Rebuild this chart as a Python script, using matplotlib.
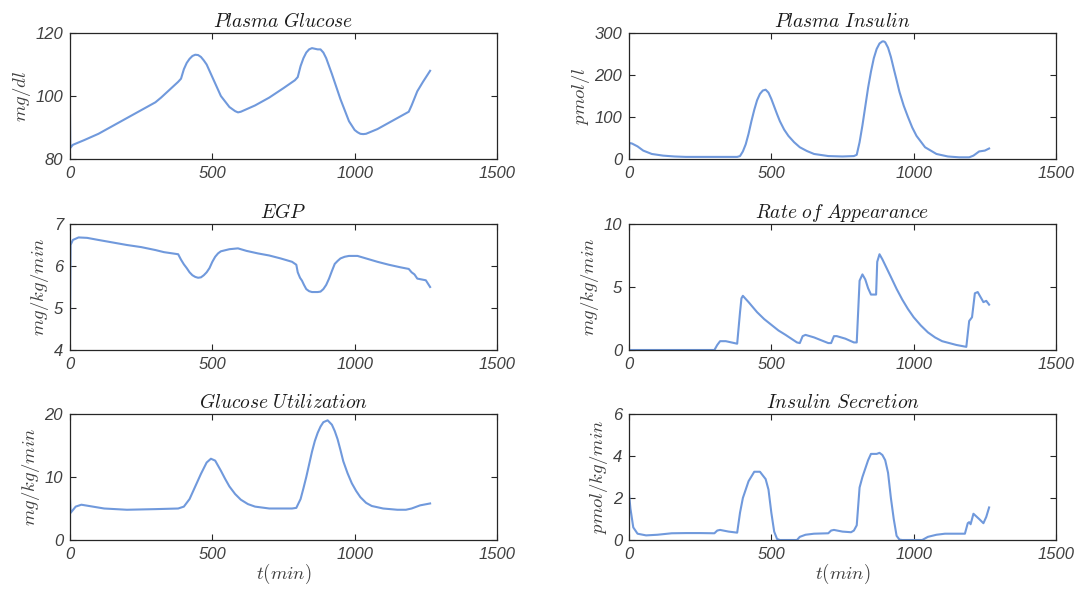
import matplotlib
matplotlib.use('Agg')
import matplotlib.pyplot as plt

# ---- data (t in min) ----
t_glu = [0, 1, 10, 50, 100, 150, 200, 250, 300, 320, 350, 380, 390, 400, 410, 420, 430, 440,
         450, 460, 470, 480, 500, 530, 560, 580, 590, 600, 650, 700, 750, 790, 800, 810, 820,
         830, 840, 850, 860, 870, 880, 890, 900, 920, 950, 980, 1000, 1010, 1020, 1030, 1040,
         1080, 1120, 1160, 1190, 1200, 1220, 1240, 1265]
glucose = [94, 83.5, 84.5, 86, 88, 90.5, 93, 95.5, 98, 99.5, 102, 104.5, 105.5, 108.5, 110.5,
           111.8, 112.7, 113.1, 113, 112.4, 111.3, 110, 106, 100, 96.5, 95.2, 94.8, 95, 97,
           99.5, 102.5, 105, 106, 109.5, 112, 113.8, 114.8, 115.2, 115, 114.8, 114.8, 113.8,
           112, 107, 99, 92, 89.2, 88.5, 88, 87.9, 88, 89.5, 91.5, 93.5, 95, 97, 101.5,
           104.5, 108]

t_ins = [0, 1, 10, 30, 50, 80, 120, 160, 200, 300, 380, 390, 400, 410, 420, 430, 440, 450,
         460, 470, 480, 490, 500, 510, 520, 530, 545, 560, 580, 600, 625, 650, 700, 750, 790,
         800, 810, 820, 830, 840, 850, 860, 870, 880, 890, 895, 900, 910, 920, 930, 940, 950,
         965, 980, 995, 1010, 1040, 1080, 1120, 1160, 1195, 1210, 1230, 1250, 1265]
insulin = [0, 38, 37, 30, 20, 12, 8, 6, 5, 5, 5, 7, 18, 35, 60, 90, 117, 140, 155, 163, 165,
           158, 143, 125, 107, 90, 70, 55, 40, 28, 19, 12, 7, 6, 7, 10, 40, 80, 125, 170, 208,
           240, 262, 275, 280, 280, 278, 265, 243, 215, 188, 160, 127, 100, 75, 55, 28, 12, 6,
           4, 4, 8, 18, 20, 25]

t_egp = [0, 2, 10, 30, 60, 100, 150, 200, 250, 300, 330, 380, 390, 400, 410, 420, 430, 440,
         450, 460, 470, 480, 490, 500, 510, 520, 530, 560, 590, 620, 660, 700, 740, 780, 795,
         800, 808, 815, 822, 830, 840, 850, 870, 880, 890, 900, 910, 920, 930, 940, 950, 965,
         980, 1010, 1040, 1080, 1120, 1160, 1190, 1200, 1210, 1220, 1250, 1265]
egp = [4.5, 6.5, 6.62, 6.68, 6.67, 6.62, 6.56, 6.5, 6.45, 6.38, 6.33, 6.28, 6.15, 6.04,
       5.95, 5.85, 5.78, 5.74, 5.72, 5.73, 5.78, 5.85, 5.95, 6.1, 6.22, 6.3, 6.35, 6.4, 6.42,
       6.36, 6.3, 6.25, 6.18, 6.1, 6.03, 5.85, 5.72, 5.65, 5.55, 5.45, 5.4, 5.38, 5.38, 5.39,
       5.45, 5.55, 5.7, 5.88, 6.05, 6.12, 6.18, 6.22, 6.24, 6.24, 6.18, 6.1, 6.03, 5.97,
       5.93, 5.85, 5.8, 5.7, 5.66, 5.5]

t_ra = [0, 300, 310, 320, 340, 370, 380, 390, 395, 400, 420, 450, 475, 500, 525, 550, 570,
        590, 600, 610, 620, 650, 700, 710, 720, 730, 760, 790, 800, 810, 820, 830, 840, 850,
        860, 868, 872, 880, 890, 905, 920, 940, 960, 980, 1000, 1025, 1050, 1075, 1100, 1150,
        1185, 1195, 1205, 1215, 1225, 1240, 1245, 1255, 1265]
ra = [0, 0, 0.4, 0.7, 0.7, 0.55, 0.5, 3.0, 4.1, 4.3, 3.8, 3.0, 2.45, 2.0, 1.55, 1.2, 0.9,
      0.6, 0.55, 1.1, 1.2, 1.0, 0.55, 0.55, 1.1, 1.1, 0.9, 0.6, 0.6, 5.5, 6.0, 5.6, 4.9, 4.4,
      4.4, 4.4, 7.0, 7.6, 7.2, 6.5, 5.8, 4.85, 4.0, 3.25, 2.6, 1.95, 1.4, 1.0, 0.7, 0.4,
      0.25, 2.3, 2.6, 4.5, 4.6, 4.0, 3.8, 3.9, 3.6]

t_uti = [0, 2, 20, 40, 80, 120, 200, 300, 380, 400, 420, 440, 460, 480, 495, 510, 530, 545,
         560, 580, 600, 625, 650, 700, 780, 795, 810, 820, 830, 840, 850, 860, 870, 880, 890,
         905, 920, 930, 940, 950, 960, 975, 990, 1005, 1020, 1040, 1060, 1100, 1150, 1180,
         1200, 1230, 1265]
utilization = [6.5, 4.3, 5.3, 5.6, 5.3, 5.0, 4.8, 4.9, 5.0, 5.3, 6.5, 8.5, 10.5, 12.3, 12.9,
               12.6, 11, 9.7, 8.5, 7.3, 6.4, 5.7, 5.3, 5.0, 5.0, 5.1, 6.5, 8.2, 10, 12, 14,
               15.7, 17, 18, 18.7, 19, 18.3, 17.3, 16, 14.3, 12.5, 10.6, 9, 7.8, 6.8, 5.9,
               5.4, 5.0, 4.8, 4.8, 5.0, 5.5, 5.8]

t_sec = [0, 5, 15, 30, 60, 100, 150, 200, 250, 300, 310, 320, 350, 380, 390, 400, 420, 440,
         460, 480, 490, 500, 510, 520, 530, 590, 600, 620, 650, 700, 710, 720, 750, 780, 790,
         800, 810, 820, 840, 850, 870, 880, 890, 900, 910, 920, 930, 940, 950, 960, 1030, 1050,
         1080, 1110, 1150, 1180, 1190, 1195, 1200, 1205, 1210, 1230, 1245, 1255, 1265]
secretion = [2.2, 1.5, 0.6, 0.3, 0.22, 0.25, 0.32, 0.33, 0.33, 0.32, 0.45, 0.48, 0.4, 0.35,
             1.3, 2.0, 2.8, 3.25, 3.25, 2.9, 2.4, 1.3, 0.4, 0.05, 0, 0, 0.15, 0.25, 0.3, 0.32,
             0.45, 0.48, 0.4, 0.37, 0.45, 0.7, 2.5, 3.0, 3.8, 4.1, 4.1, 4.15, 4.05, 3.8, 3.2,
             2.0, 1.0, 0.2, 0.02, 0, 0, 0.15, 0.25, 0.3, 0.3, 0.3, 0.8, 0.85, 0.75, 1.0, 1.25,
             1.0, 0.8, 1.1, 1.55]

panels = [
    (t_glu, glucose, r'$Plasma\ Glucose$', r'$mg/dl$', (80, 120), [80, 100, 120]),
    (t_ins, insulin, r'$Plasma\ Insulin$', r'$pmol/l$', (0, 300), [0, 100, 200, 300]),
    (t_egp, egp, r'$EGP$', r'$mg/kg/min$', (4, 7), [4, 5, 6, 7]),
    (t_ra, ra, r'$Rate\ of\ Appearance$', r'$mg/kg/min$', (0, 10), [0, 5, 10]),
    (t_uti, utilization, r'$Glucose\ Utilization$', r'$mg/kg/min$', (0, 20), [0, 10, 20]),
    (t_sec, secretion, r'$Insulin\ Secretion$', r'$pmol/kg/min$', (0, 6), [0, 2, 4, 6]),
]

plt.rcParams['mathtext.fontset'] = 'cm'
line_color = '#7099dc'
text_color = '#262626'
label_color = '#404040'

fig = plt.figure(figsize=(10.78, 5.92), dpi=100)
lefts = [70 / 1078, 629 / 1078]
bottoms = [1 - 159 / 592, 1 - 350 / 592, 1 - 540 / 592]
w = 427 / 1078
h = 126 / 592

for i, (t, y, title, ylab, ylim, yticks) in enumerate(panels):
    ax = fig.add_axes([lefts[i % 2], bottoms[i // 2], w, h])
    ax.plot(t, y, color=line_color, lw=1.5)
    ax.set_xlim(0, 1500)
    ax.set_ylim(*ylim)
    ax.set_xticks([0, 500, 1000, 1500])
    ax.set_yticks(yticks)
    ax.tick_params(direction='in', top=True, right=True, length=4, width=0.8,
                   colors=text_color, labelcolor=label_color, labelsize=12, pad=5)
    for lab in ax.get_xticklabels() + ax.get_yticklabels():
        lab.set_fontstyle('italic')
        lab.set_family('Liberation Sans')
    for s in ax.spines.values():
        s.set_color(text_color)
        s.set_linewidth(0.9)
    ax.set_title(title, fontsize=14, color='#1a1a1a', pad=4)
    ax.set_ylabel(ylab, fontsize=13.5, color=label_color, labelpad=2)
    if i >= 4:
        ax.set_xlabel(r'$t(min)$', fontsize=13.5, color=label_color, labelpad=0)

fig.savefig('out.png', dpi=100)
